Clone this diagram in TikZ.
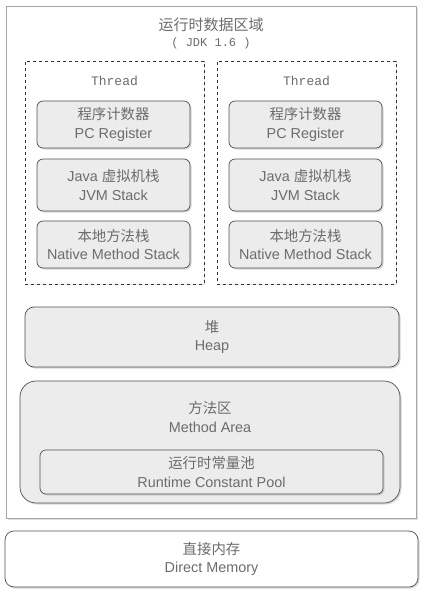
\documentclass[tikz,border=0pt]{standalone}
\usepackage{fontspec}
\setmainfont{Liberation Sans}
\setmonofont{Liberation Mono}
\newfontfamily\cjk{Noto Sans CJK SC}
\usepackage{tikz}
\usetikzlibrary{shadows}

\definecolor{txtgray}{RGB}{108,108,108}
\definecolor{boxfill}{RGB}{236,236,236}
\definecolor{boxline}{RGB}{80,80,80}

\newcommand{\zh}[1]{{\cjk #1}}

\tikzset{
  areabox/.style={draw=boxline, line width=0.7pt, fill=boxfill, rounded corners=6pt,
    drop shadow={shadow xshift=1.5pt, shadow yshift=-1.5pt, fill=gray!60},
    align=center, text=txtgray, font=\fontsize{14.4}{18.5}\selectfont, inner sep=0pt},
  threadbox/.style={draw=black!80, dashed, line width=0.6pt, fill=white,
    drop shadow={shadow xshift=1.2pt, shadow yshift=-1.2pt, fill=gray!40}, inner sep=0pt},
  plaintxt/.style={text=txtgray, align=center, font=\fontsize{14.4}{18.5}\selectfont}
}

\begin{document}
\begin{tikzpicture}[x=1pt, y=-1pt]
\useasboundingbox (0,0) rectangle (426,594);

% Runtime data area frame
\node[draw=gray!70, line width=0.7pt, fill=white, minimum width=410pt, minimum height=512pt,
  drop shadow={shadow xshift=2pt, shadow yshift=-2pt, fill=gray!50}] (frame) at (211,262) {};
\node[plaintxt, font=\fontsize{15}{18}\selectfont] (title) at (211,25) {\zh{运行时数据区域}};
\node[plaintxt, font=\ttfamily\fontsize{12}{14}\selectfont] (jdk) at (211,43) {( JDK 1.6 )};

% Threads
\foreach \nm/\x in {left/114.5, right/306.5} {
  \node[threadbox, minimum width=179pt, minimum height=223pt] (thread-\nm) at (\x,172.5) {};
  \node[plaintxt, font=\ttfamily\fontsize{13}{15}\selectfont] (tname-\nm) at (\x,81) {Thread};
}
\foreach \nm/\x in {left/113.5, right/305.5} {
  \node[areabox, minimum width=153pt, minimum height=47pt] (pc-\nm) at (\x,124.5)
    {\zh{程序计数器}\\PC Register};
  \node[areabox, minimum width=153pt, minimum height=52pt] (jvm-\nm) at (\x,185)
    {Java \zh{虚拟机栈}\\JVM Stack};
  \node[areabox, minimum width=153pt, minimum height=47pt] (native-\nm) at (\x,244.5)
    {\zh{本地方法栈}\\Native Method Stack};
}

% Heap
\node[areabox, minimum width=374pt, minimum height=60pt, rounded corners=9pt] (heap) at (212,337)
  {\zh{堆}\\Heap};

% Method area
\node[areabox, minimum width=380pt, minimum height=122pt, rounded corners=16pt] (method) at (210,442) {};
\node[plaintxt] (methodtxt) at (210,417) {\zh{方法区}\\Method Area};
\node[areabox, minimum width=343pt, minimum height=44pt] (pool) at (211.5,472)
  {\zh{运行时常量池}\\Runtime Constant Pool};

% Direct memory
\node[areabox, fill=white, minimum width=413pt, minimum height=56pt, rounded corners=9pt] (direct) at (211.5,559)
  {\zh{直接内存}\\Direct Memory};

\end{tikzpicture}
\end{document}
